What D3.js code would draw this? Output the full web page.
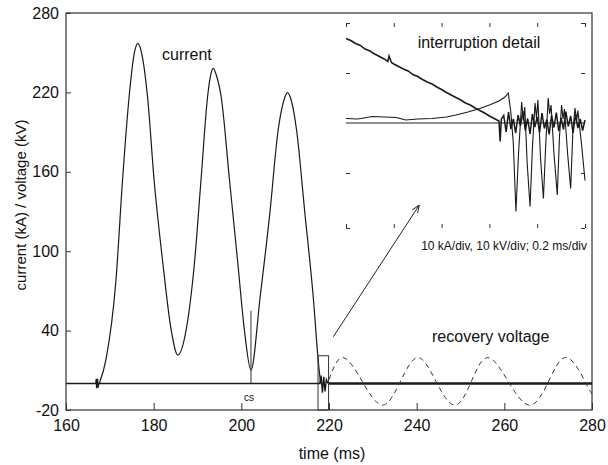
<!DOCTYPE html>
<html>
  <head>
    <meta charset="utf-8">
    <title>current / recovery voltage</title>
    <script src="https://d3js.org/d3.v7.min.js"></script>
    <style>
      body { margin: 0; background: #fff; }
      text { font-family: "Liberation Sans", Arial, sans-serif; fill: #111; }
    </style>
  </head>
  <body>
    <svg id="canvas" width="608" height="465"></svg>

    <script>
      // axis ticks
      var xTicks = [160, 180, 200, 220, 240, 260, 280];
      var yTicks = [-20, 40, 100, 160, 220, 280];

      // short-circuit current (kA)
      var currentT = [167.6, 169.1, 171.4, 172.9, 174.4, 175.6, 176.4, 177.3, 178.6, 180.1, 182.1, 184.0, 185.5,
                      187.4, 189.3, 190.8, 192.3, 193.0, 193.6, 194.3, 195.4, 197.3, 199.2, 200.7, 202.2,
                      204.3, 206.5, 208.4, 209.8, 210.5, 211.3, 212.6, 214.5, 216.4, 217.6, 218.1];
      var currentV = [0, 17.8, 78.2, 153.8, 216.7, 250, 257.1, 249, 216.7, 153.8, 90.9, 40.4, 21.5,
                      40.4, 90.9, 153.8, 216.7, 233, 238.2, 233, 216.7, 153.8, 90.9, 40.4, 10.2,
                      65.6, 128.6, 191.6, 215, 219.8, 215, 191.6, 128.6, 65.6, 15.3, 0];

      // voltage trace around zero (with the small spikes)
      var baseT = [160, 166.8, 166.9, 167.0, 167.2, 167.3, 167.5, 217.9, 218.2, 218.5, 218.8, 219.1, 219.4, 219.8];
      var baseV = [0, 0, 3.5, -3.5, 3.5, -3, 0, 0, 6, -7, 5, -6, 3, 0];
      var baseT2 = [219.8, 280];
      var baseV2 = [0, 0];

      // recovery voltage (dashed)
      var recoveryT = [220.0, 223.2, 227.7, 232.2, 236.2, 240.3, 244.5, 248.7, 252.4, 256.2, 261.0, 265.8, 270.0, 274.2, 278.5, 280];
      var recoveryV = [3, 19.6, 1, -16.3, 1, 19.6, 1, -16.3, 1, 19.6, 1, -16.3, 1, 19.6, 1, -8];

      // inset: interruption detail (0.2 ms/div, 10 kA or kV/div)
      var insetTicksT = [0, 0.2, 0.4, 0.6, 0.8, 1.0];
      var insetTicksV = [-21, -10, 10, 20];
      var iCurT = [0, 0.02, 0.04, 0.06, 0.08, 0.10, 0.12, 0.14, 0.16, 0.175, 0.18, 0.19, 0.20, 0.22, 0.24, 0.26, 0.28,
                   0.30, 0.32, 0.34, 0.36, 0.38, 0.40, 0.42, 0.44, 0.46, 0.48, 0.50, 0.52, 0.54, 0.56,
                   0.58, 0.60, 0.62, 0.64, 0.645, 0.65, 0.66, 0.67, 0.68, 0.69, 0.70, 0.71, 0.72, 0.73,
                   0.74, 0.75, 0.76, 0.77, 0.78, 0.79, 0.80, 0.81, 0.82, 0.83, 0.84, 0.85, 0.86, 0.87,
                   0.88, 0.89, 0.90, 0.91, 0.92, 0.93, 0.94, 0.95, 0.96, 0.97, 0.98, 0.99, 1.0];
      var iCurV = [16.9, 16.5, 15.9, 15.5, 14.8, 14.4, 13.8, 13.3, 12.8, 12.3, 13.4, 12.1, 11.8, 11.3, 10.8, 10.4, 9.7,
                   9.3, 8.7, 8.2, 7.8, 7.2, 6.7, 6.1, 5.6, 5.1, 4.6, 4.0, 3.6, 3.0, 2.5,
                   2.0, 1.4, 0.9, 0.4, -3.7, 0.8, 1.5, -1.8, 2.2, -1.2, 0.8, -2.0, 1.6, -0.6,
                   2.4, -1.5, 0.9, -2.2, 1.8, -0.8, 1.2, -1.9, 2.0, -1.1, 0.7, -2.3, 1.5, -0.9,
                   2.1, -1.6, 1.0, -1.3, 2.3, -0.7, 1.4, -2.0, 1.7, -1.0, 0.8, -1.5, 0.6];
      var iVoltT = [0, 0.05, 0.11, 0.16, 0.21, 0.25, 0.30, 0.36, 0.42, 0.46, 0.51, 0.56, 0.60, 0.64, 0.665, 0.679,
                    0.690, 0.700, 0.711, 0.722, 0.735, 0.742, 0.748, 0.758, 0.770, 0.780, 0.791, 0.797, 0.803,
                    0.814, 0.826, 0.836, 0.846, 0.852, 0.858, 0.870, 0.884, 0.893, 0.902, 0.908, 0.914,
                    0.927, 0.940, 0.949, 0.958, 0.965, 0.970, 0.985, 1.0];
      var iVoltV = [0.9, 0.8, 1.3, 1.2, 1.1, 0.6, 0.8, 0.9, 1.2, 1.6, 2.2, 2.9, 3.6, 4.4, 5.2, 6.0,
                    2.0, -4, -17.7, -6, 4.2, 0.5, 3.2, -8, -16.7, -5, 4.0, 1.0, 4.6,
                    -7, -15.1, -4, 5.0, 1.8, 3.6, -6, -14.4, -3, 3.6, 0.8, 2.8,
                    -6, -13.1, -2, 3.0, 0.5, 2.5, -4, -11.5];

      // annotations (data coordinates of the main plot)
      var csT = 202.2, csTop = 55;
      var boxT = [217.5, 219.9], boxV = [-20, 21];
      var arrowFrom = [221.0, 35.4], arrowTo = [240.6, 134.9];

      var svg = d3.select("#canvas");
      svg.append("rect").attr("width", 608).attr("height", 465).attr("fill", "#fff");

      var x = d3.scaleLinear().domain([160, 280]).range([66, 592]);
      var y = d3.scaleLinear().domain([-20, 280]).range([410, 13]);

      svg.append("defs").append("marker")
        .attr("id", "arr")
        .attr("viewBox", "0 0 10 10")
        .attr("refX", 10).attr("refY", 5)
        .attr("markerWidth", 8).attr("markerHeight", 8)
        .attr("orient", "auto")
        .append("path")
        .attr("d", "M0,1 L10,5 L0,9")
        .attr("fill", "none")
        .attr("stroke", "#222")
        .attr("stroke-width", 1.2);

      // frame
      svg.append("rect")
        .attr("x", x(160)).attr("y", y(280))
        .attr("width", x(280) - x(160)).attr("height", y(-20) - y(280))
        .attr("fill", "none").attr("stroke", "#333").attr("stroke-width", 1.2);

      var yAxis = svg.append("g")
        .attr("transform", "translate(" + x(160) + ",0)")
        .call(d3.axisLeft(y).tickValues(yTicks).tickFormat(String)
          .tickSizeInner(-5).tickSizeOuter(0).tickPadding(7));
      var xAxis = svg.append("g")
        .attr("transform", "translate(0," + y(-20) + ")")
        .call(d3.axisBottom(x).tickValues(xTicks).tickFormat(String)
          .tickSizeInner(-7).tickSizeOuter(0).tickPadding(10));

      [xAxis, yAxis].forEach(function(a){
        a.select(".domain").remove();
        a.selectAll("line").attr("stroke", "#333");
        a.selectAll("text").style("font-size", "16px").attr("fill", "#111");
      });

      // axis titles
      svg.append("text")
        .attr("x", 332).attr("y", 459)
        .attr("text-anchor", "middle")
        .style("font-size", "16px")
        .text("time (ms)");
      svg.append("text")
        .attr("transform", "translate(21,205) rotate(-90)")
        .attr("text-anchor", "middle")
        .attr("dy", "0.35em")
        .style("font-size", "15px")
        .text("current (kA) / voltage (kV)");

      var line = d3.line().x(function(d){ return x(d[0]); }).y(function(d){ return y(d[1]); });

      // voltage trace at zero
      svg.append("path")
        .datum(d3.zip(baseT, baseV))
        .attr("d", line)
        .attr("fill", "none").attr("stroke", "#1a1a1a").attr("stroke-width", 1.4);
      svg.append("path")
        .datum(d3.zip(baseT2, baseV2))
        .attr("d", line)
        .attr("fill", "none").attr("stroke", "#1a1a1a").attr("stroke-width", 2.4);

      // current
      svg.append("path")
        .datum(d3.zip(currentT, currentV))
        .attr("d", line.curve(d3.curveMonotoneX))
        .attr("fill", "none").attr("stroke", "#1a1a1a").attr("stroke-width", 1.2);

      // recovery voltage
      svg.append("path")
        .datum(d3.zip(recoveryT, recoveryV))
        .attr("d", line.curve(d3.curveNatural))
        .attr("fill", "none").attr("stroke", "#333").attr("stroke-width", 1)
        .attr("stroke-dasharray", "5,4");
      line.curve(d3.curveLinear);

      // current-zero marker "cs"
      svg.append("line")
        .attr("x1", x(csT)).attr("x2", x(csT))
        .attr("y1", y(csTop)).attr("y2", y(0))
        .attr("stroke", "#333").attr("stroke-width", 1);
      svg.append("text")
        .attr("x", x(csT) - 2).attr("y", y(0) + 17)
        .attr("text-anchor", "middle")
        .style("font-size", "10px")
        .text("cs");

      // zoom box and arrow
      svg.append("rect")
        .attr("x", x(boxT[0])).attr("y", y(boxV[1]))
        .attr("width", x(boxT[1]) - x(boxT[0])).attr("height", y(boxV[0]) - y(boxV[1]))
        .attr("fill", "none").attr("stroke", "#333").attr("stroke-width", 1);
      svg.append("line")
        .attr("x1", x(arrowFrom[0])).attr("y1", y(arrowFrom[1]))
        .attr("x2", x(arrowTo[0])).attr("y2", y(arrowTo[1]))
        .attr("stroke", "#222").attr("stroke-width", 1)
        .attr("marker-end", "url(#arr)");

      // labels
      svg.append("text").attr("x", 162).attr("y", 60).style("font-size", "16px").text("current");
      svg.append("text").attr("x", 432).attr("y", 342).style("font-size", "16px").text("recovery voltage");

      // ---- inset ----
      var xi = d3.scaleLinear().domain([0, 1]).range([346, 585]);
      var yi = d3.scaleLinear().domain([-21, 20]).range([228, 23]);
      var inset = svg.append("g");

      var tks = [
        [d3.axisBottom(xi).tickValues(insetTicksT), "translate(0," + yi(20) + ")"],
        [d3.axisTop(xi).tickValues(insetTicksT), "translate(0," + yi(-21) + ")"],
        [d3.axisRight(yi).tickValues(insetTicksV), "translate(" + xi(0) + ",0)"],
        [d3.axisLeft(yi).tickValues(insetTicksV), "translate(" + xi(1) + ",0)"]
      ];
      tks.forEach(function(t){
        var g = inset.append("g").attr("transform", t[1])
          .call(t[0].tickSize(4).tickFormat(""));
        g.select(".domain").remove();
        g.selectAll("line").attr("stroke", "#333");
      });

      var iline = d3.line().x(function(d){ return xi(d[0]); }).y(function(d){ return yi(d[1]); });

      inset.append("line")
        .attr("x1", xi(0)).attr("x2", xi(1))
        .attr("y1", yi(0)).attr("y2", yi(0))
        .attr("stroke", "#222").attr("stroke-width", 1.2);
      inset.append("path")
        .datum(d3.zip(iVoltT, iVoltV))
        .attr("d", iline)
        .attr("fill", "none").attr("stroke", "#1a1a1a").attr("stroke-width", 1.1);
      inset.append("path")
        .datum(d3.zip(iCurT, iCurV))
        .attr("d", iline)
        .attr("fill", "none").attr("stroke", "#1a1a1a").attr("stroke-width", 1.5);

      inset.append("text")
        .attr("x", 479).attr("y", 48)
        .attr("text-anchor", "middle")
        .style("font-size", "16px")
        .text("interruption detail");
      inset.append("text")
        .attr("x", 587).attr("y", 250)
        .attr("text-anchor", "end")
        .style("font-size", "12px")
        .text("10 kA/div, 10 kV/div; 0.2 ms/div");
    </script>
  </body>
</html>
